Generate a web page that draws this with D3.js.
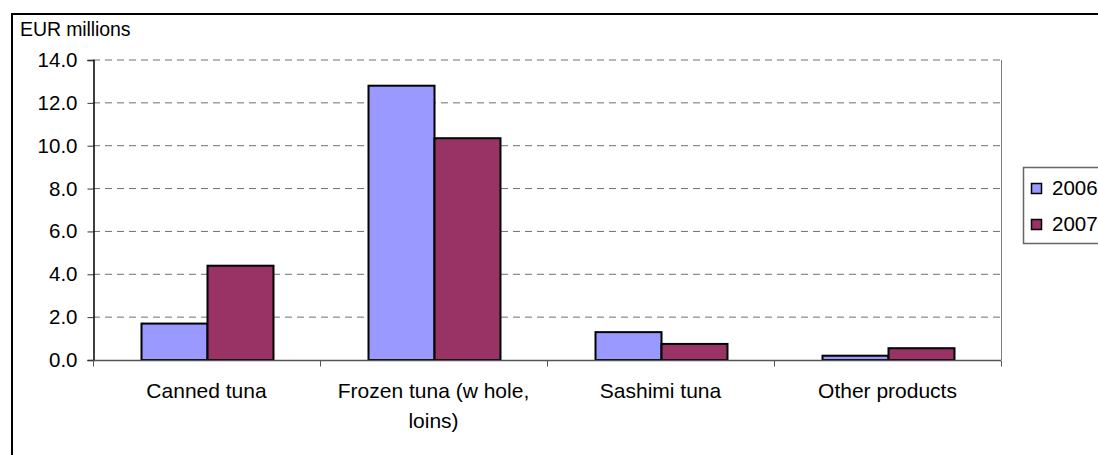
<!DOCTYPE html>
<html>
<head>
<meta charset="utf-8">
<script src="https://cdn.jsdelivr.net/npm/d3@7"></script>
<style>
  html, body { margin: 0; padding: 0; background: #fff; }
  svg { display: block; font-family: "Liberation Sans", Arial, sans-serif; }
</style>
</head>
<body>
<svg id="chart" width="1098" height="455"></svg>
<script>
// Tuna exports by product, EUR millions
const categories = ["Canned tuna", "Frozen tuna (w hole, loins)", "Sashimi tuna", "Other products"];
const categoryLines = [["Canned tuna"], ["Frozen tuna (w hole,", "loins)"], ["Sashimi tuna"], ["Other products"]];
const seriesNames = ["2006", "2007"];
const values2006 = [1.7, 12.8, 1.3, 0.2];
const values2007 = [4.4, 10.35, 0.75, 0.55];
const yTicks = [0, 2, 4, 6, 8, 10, 12, 14];
const seriesColors = ["#9999FF", "#993366"];

const svg = d3.select("#chart");
const plot = { left: 93, right: 1001, top: 60, bottom: 360 };

// outer chart frame
svg.append("rect")
  .attr("x", 12).attr("y", 14)
  .attr("width", 1200).attr("height", 600)
  .attr("fill", "#fff").attr("stroke", "#000").attr("stroke-width", 2);

const x = d3.scaleBand().domain(categories).range([plot.left, plot.right]).paddingInner(0).paddingOuter(0);
const xs = d3.scaleBand().domain(seriesNames).range([0, x.bandwidth()]).paddingInner(0).paddingOuter(0.72);
const y = d3.scaleLinear().domain([0, 14]).range([plot.bottom, plot.top]);

// dashed gridlines
svg.append("g").selectAll("line")
  .data(yTicks.filter(d => d > 0))
  .join("line")
  .attr("x1", plot.left).attr("x2", plot.right)
  .attr("y1", d => y(d)).attr("y2", d => y(d))
  .attr("stroke", "#707070").attr("stroke-width", 1)
  .attr("stroke-dasharray", "7,5");

// right edge of plot area
svg.append("line")
  .attr("x1", plot.right + 0.5).attr("x2", plot.right + 0.5)
  .attr("y1", plot.top).attr("y2", plot.bottom)
  .attr("stroke", "#808080").attr("stroke-width", 1);

// bars
const data = categories.map((c, i) => ({ cat: c, vals: [values2006[i], values2007[i]] }));
const groups = svg.append("g").selectAll("g")
  .data(data)
  .join("g")
  .attr("transform", d => `translate(${x(d.cat) + 1},0)`);
groups.selectAll("rect")
  .data(d => d.vals.map((v, j) => ({ s: seriesNames[j], v, j })))
  .join("rect")
  .attr("x", d => xs(d.s))
  .attr("y", d => y(d.v))
  .attr("width", xs.bandwidth())
  .attr("height", d => y(0) - y(d.v))
  .attr("fill", d => seriesColors[d.j])
  .attr("stroke", "#000").attr("stroke-width", 2);

// y axis
const yAxis = d3.axisLeft(y).tickValues(yTicks).tickFormat(d3.format(".1f")).tickSize(6).tickPadding(10);
const ya = svg.append("g").attr("transform", `translate(${plot.left + 0.5},0)`).call(yAxis);
ya.select(".domain").attr("stroke", "#000").attr("stroke-width", 1.5);
ya.selectAll(".tick line").attr("stroke", "#333");
ya.selectAll(".tick text").attr("font-size", 20.5).attr("fill", "#000")
  .attr("font-family", "Liberation Sans, Arial, sans-serif");

// x axis baseline and category boundary ticks
const xa = svg.append("g").attr("transform", `translate(0,${plot.bottom + 0.5})`);
xa.append("line")
  .attr("x1", plot.left).attr("x2", plot.right)
  .attr("stroke", "#555").attr("stroke-width", 1.5);
const bounds = categories.map(c => x(c)).concat([plot.right]);
xa.selectAll("line.tk").data(bounds).join("line").attr("class", "tk")
  .attr("x1", d => d + 0.5).attr("x2", d => d + 0.5)
  .attr("y1", 0).attr("y2", 6)
  .attr("stroke", "#555").attr("stroke-width", 1);

// category labels
const labels = svg.append("g").selectAll("text")
  .data(categories.map((c, i) => ({ c, lines: categoryLines[i] })))
  .join("text")
  .attr("text-anchor", "middle")
  .attr("font-size", 21)
  .attr("fill", "#000");
labels.selectAll("tspan")
  .data(d => d.lines.map((t, k) => ({ t, k, c: d.c })))
  .join("tspan")
  .attr("x", d => x(d.c) + x.bandwidth() / 2)
  .attr("y", d => 398 + d.k * 30)
  .text(d => d.t);

// axis unit title
svg.append("text")
  .attr("x", 20).attr("y", 36)
  .attr("font-size", 19.5).attr("letter-spacing", -0.1)
  .attr("fill", "#000")
  .text("EUR millions");

// legend
const lg = svg.append("g");
lg.append("rect")
  .attr("x", 1023.5).attr("y", 167.5)
  .attr("width", 120).attr("height", 76)
  .attr("fill", "#fff").attr("stroke", "#666").attr("stroke-width", 1.5);
const items = lg.selectAll("g").data(seriesNames).join("g")
  .attr("transform", (d, i) => `translate(0,${i * 36})`);
items.append("rect")
  .attr("x", 1031.5).attr("y", 183.5)
  .attr("width", 10).attr("height", 10)
  .attr("fill", (d, i) => seriesColors[i])
  .attr("stroke", "#000").attr("stroke-width", 1.5);
items.append("text")
  .attr("x", 1052).attr("y", 195)
  .attr("font-size", 20.5).attr("fill", "#000")
  .text(d => d);
</script>
</body>
</html>
